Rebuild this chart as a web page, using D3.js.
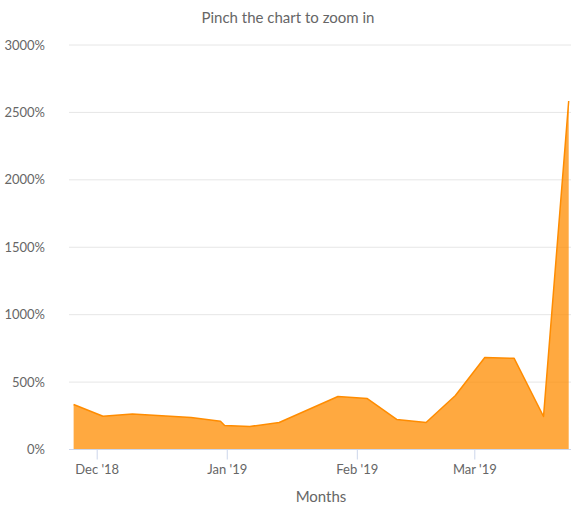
<!DOCTYPE html>
<html>
<head>
<meta charset="utf-8">
<script src="https://cdn.jsdelivr.net/npm/d3@7"></script>
<style>
  body { margin: 0; background: #fff; }
  svg { font-family: "Lato", "Open Sans", sans-serif; }
</style>
</head>
<body>
<svg id="chart" width="571" height="507"></svg>
<script>
// weekly readings (percent)
var dates = ["2018-11-25T12:00", "2018-12-02T12:00", "2018-12-09T12:00", "2018-12-23T12:00",
             "2018-12-30T12:00", "2018-12-31T12:00", "2019-01-06T12:00", "2019-01-13T12:00",
             "2019-01-27T12:00", "2019-02-03T12:00", "2019-02-10T12:00", "2019-02-17T12:00",
             "2019-02-24T12:00", "2019-03-03T12:00", "2019-03-10T12:00", "2019-03-17T12:00",
             "2019-03-23T12:00"];
var values = [334, 247, 263, 237, 210, 178, 171, 200, 393, 378, 223, 200, 400, 682, 676, 245, 2585];
var monthTicks = ["2018-12-01", "2019-01-01", "2019-02-01", "2019-03-01"];
var yTicks = [0, 500, 1000, 1500, 2000, 2500, 3000];

var parse = d3.timeParse("%Y-%m-%dT%H:%M");
var parseDay = d3.timeParse("%Y-%m-%d");
var data = dates.map(function(d, i) { return {date: parse(d), value: values[i]}; });
var ticks = monthTicks.map(parseDay);

var svg = d3.select("#chart");
var plotLeft = 69, plotRight = 571, plotTop = 45, plotBottom = 449.5;

// x scale anchored on the month ticks
var x = d3.scaleTime()
    .domain([ticks[0], ticks[3]])
    .range([96.7, 474.3]);
var y = d3.scaleLinear().domain([0, 3000]).range([plotBottom, plotTop]);

// grid
svg.append("g").selectAll("line")
    .data(yTicks.slice(1))
    .enter().append("line")
    .attr("x1", plotLeft).attr("x2", plotRight)
    .attr("y1", function(d) { return y(d); })
    .attr("y2", function(d) { return y(d); })
    .attr("stroke", "#e6e6e6").attr("stroke-width", 1);

// y labels
svg.append("g").selectAll("text")
    .data(yTicks)
    .enter().append("text")
    .attr("x", 45)
    .attr("y", function(d) { return y(d) + 4.5; })
    .attr("text-anchor", "end")
    .attr("fill", "#666")
    .style("font-size", "13px")
    .text(function(d) { return d + "%"; });

// area + line
var area = d3.area()
    .x(function(d) { return x(d.date); })
    .y0(y(0))
    .y1(function(d) { return y(d.value); });
var line = d3.line()
    .x(function(d) { return x(d.date); })
    .y(function(d) { return y(d.value); });

svg.append("path").datum(data)
    .attr("d", area)
    .attr("fill", "rgb(255,140,0)")
    .attr("fill-opacity", 0.75);
svg.append("path").datum(data)
    .attr("d", line)
    .attr("fill", "none")
    .attr("stroke", "#ff8c00")
    .attr("stroke-width", 1.5)
    .attr("stroke-linejoin", "round");

// x axis
var xAxis = d3.axisBottom(x)
    .tickValues(ticks)
    .tickSize(10)
    .tickPadding(5)
    .tickFormat(d3.timeFormat("%b '%y"));
var gx = svg.append("g")
    .attr("transform", "translate(0," + plotBottom + ")")
    .call(xAxis);
gx.select(".domain").remove();
gx.append("line")
    .attr("x1", plotLeft).attr("x2", plotRight)
    .attr("y1", 0).attr("y2", 0)
    .attr("stroke", "#ccd6eb");
gx.selectAll(".tick line").attr("stroke", "#ccd6eb");
gx.selectAll(".tick text")
    .attr("fill", "#666")
    .style("font-size", "13px")
    .style("font-family", "Lato, 'Open Sans', sans-serif");

// titles
svg.append("text")
    .attr("x", 288).attr("y", 23)
    .attr("text-anchor", "middle")
    .attr("fill", "#666")
    .style("font-size", "15px")
    .text("Pinch the chart to zoom in");
svg.append("text")
    .attr("x", 321).attr("y", 502)
    .attr("text-anchor", "middle")
    .attr("fill", "#666")
    .style("font-size", "15px")
    .text("Months");
</script>
</body>
</html>
